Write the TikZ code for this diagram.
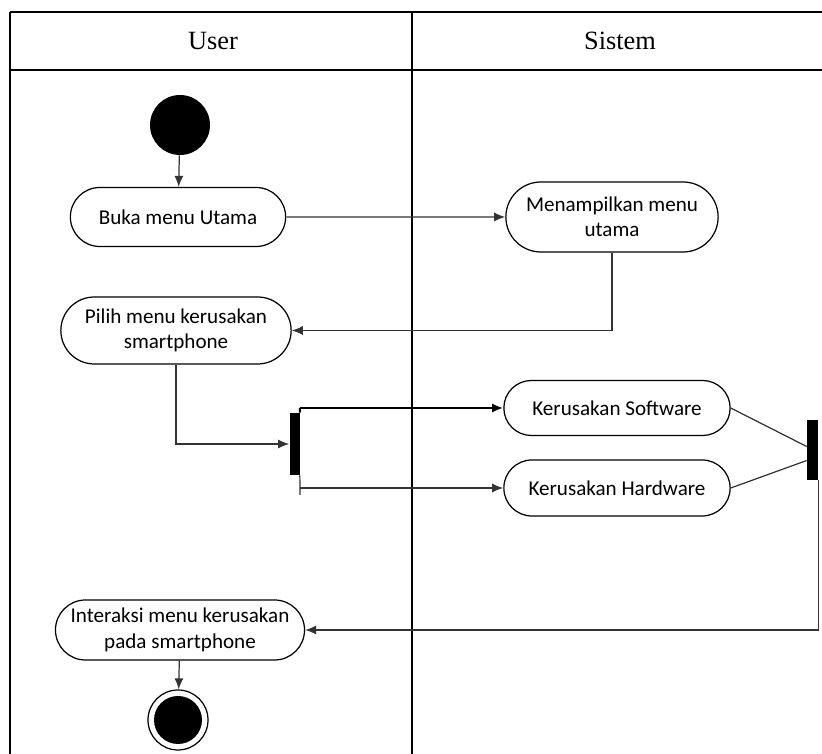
\documentclass[tikz,border=0pt]{standalone}
\usepackage{fontspec}
\setmainfont{Carlito}
\newfontfamily\lanefont{Liberation Serif}
\usetikzlibrary{arrows.meta,shapes.misc}

\tikzset{
  act/.style={draw, rounded rectangle, align=center, line width=0.7pt,
    font=\fontsize{12}{14.5}\selectfont},
  flow/.style={-{Latex[length=2.2mm,width=1.8mm]}, line width=0.7pt, black!80},
  link/.style={line width=0.7pt, black!80},
  syncbar/.style={fill=black, draw=none, minimum width=0.2cm, inner sep=0pt},
  lane/.style={line width=0.6pt},
  lanehead/.style={line width=1.4pt},
  lanename/.style={font=\lanefont\fontsize{15}{18}\selectfont}
}

\begin{document}
\begin{tikzpicture}
    \useasboundingbox (0,0) rectangle (16.44,-15.08);

    % swimlanes
    \draw[lanehead] (0.2,-0.24) -- (16.44,-0.24);
    \draw[lanehead] (0.2,-1.4) -- (16.44,-1.4);
    \draw[lane] (0.2,-0.24) -- (0.2,-15.08);
    \draw[lane] (8.24,-0.24) -- (8.24,-15.08);
    \node (user) at (4.26,-0.82) [lanename]{User};
    \node (sistem) at (12.4,-0.82) [lanename]{Sistem};

    % nodes
    \node (start) at (3.6,-2.5) [circle, fill=black, minimum size=1.2cm, inner sep=0pt]{};
    \node (buka) at (3.56,-4.34) [act, minimum width=4.54cm, minimum height=1.18cm]{Buka menu Utama};
    \node (tampil) at (12.24,-4.34) [act, minimum width=4.48cm, minimum height=1.4cm]{Menampilkan menu\\utama};
    \node (pilih) at (3.52,-6.61) [act, minimum width=4.84cm, minimum height=1.34cm]{Pilih menu kerusakan\\smartphone};
    \node (fork) at (5.89,-8.88) [syncbar, minimum height=1.24cm]{};
    \coordinate (ftop) at (6.0,-8.16);
    \coordinate (fbot) at (6.0,-9.9);
    \coordinate (fhw) at (6.0,-9.76);
    \node (soft) at (12.34,-8.16) [act, minimum width=4.76cm, minimum height=1.1cm]{Kerusakan Software};
    \node (hard) at (12.34,-9.76) [act, minimum width=4.76cm, minimum height=1.12cm]{Kerusakan Hardware};
    \node (join) at (16.25,-9.0) [syncbar, minimum height=1.2cm, minimum width=0.22cm]{};
    \node (inter) at (3.6,-12.6) [act, minimum width=4.92cm, minimum height=1.2cm]{Interaksi menu kerusakan\\pada smartphone};
    \node (end) at (3.56,-14.4) [circle, draw, line width=0.7pt, minimum size=1.2cm, inner sep=0pt]{};
    \node (endin) at (3.56,-14.4) [circle, fill=black, minimum size=0.96cm, inner sep=0pt]{};

    % flows
     \draw[flow] (start) -- (buka);
     \draw[flow] (buka) -- (tampil);
     \draw[flow] (tampil.south) |- (pilih.east);
     \draw[flow] (pilih.south) |- (fork.west);

     \draw[line width=1.2pt] (ftop) -- (fork.north east);
     \draw[link] (fork.south east) -- (fbot);
     \draw[flow, line width=1.2pt, black] (ftop) -- (soft.west);
     \draw[flow] (fhw) -- (hard.west);

     \draw[link] (soft.east) -- ([yshift=2pt]join.west);
     \draw[link] (hard.east) -- ([yshift=-6pt]join.west);
     \draw[flow] (join.south east) |- (inter.east);

     \draw[flow] (inter) -- (end);

  \end{tikzpicture}
\end{document}
